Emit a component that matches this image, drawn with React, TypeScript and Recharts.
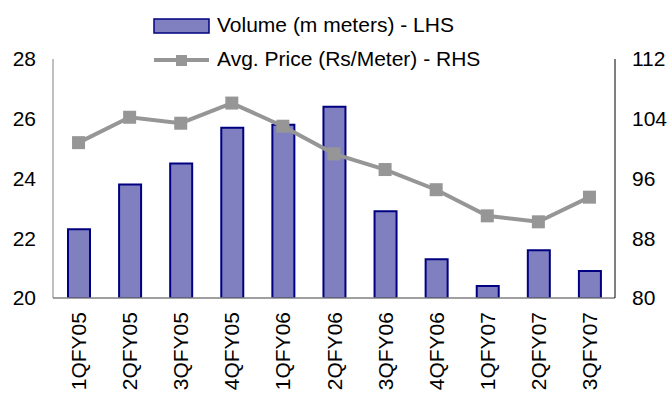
import React from 'react';
import { ComposedChart, Bar, Line, XAxis, YAxis } from 'recharts';

// quarters on the x axis
const quarters = ['1QFY05', '2QFY05', '3QFY05', '4QFY05', '1QFY06', '2QFY06', '3QFY06', '4QFY06', '1QFY07', '2QFY07', '3QFY07'];
// volume in million meters (LHS)
const volume = [22.3, 23.8, 24.5, 25.7, 25.8, 26.4, 22.9, 21.3, 20.4, 21.6, 20.9];
// average price Rs/meter (RHS)
const avgPrice = [100.8, 104.2, 103.4, 106.1, 103.0, 99.3, 97.2, 94.5, 91.0, 90.2, 93.5];

const leftTicks = [20, 22, 24, 26, 28];
const rightTicks = [80, 88, 96, 104, 112];

const data = quarters.map((q, i) => ({ quarter: q, volume: volume[i], price: avgPrice[i] }));

const FONT = '"Liberation Sans", Arial, sans-serif';
const FS = 21;
const BAR_FILL = '#8080C0';
const BAR_STROKE = '#000080';
const LINE_COLOR = '#969696';

const QuarterTick = ({ x, y, payload }: any) => (
  <text
    x={x}
    y={y}
    dy="0.36em"
    transform={`rotate(-90 ${x} ${y})`}
    textAnchor="end"
    fontSize={FS}
    fontFamily={FONT}
    fill="#000"
  >
    {payload.value}
  </text>
);

const SquareDot = ({ cx, cy }: any) => (
  <rect x={cx - 6.5} y={cy - 6.5} width={13} height={13} fill={LINE_COLOR} />
);

// legend drawn as an overlay so it does not steal space from the plot
const ChartLegend = () => (
  <svg width={420} height={80} style={{ position: 'absolute', left: 150, top: 0 }}>
    <rect x={4} y={19} width={55} height={14} fill={BAR_FILL} stroke={BAR_STROKE} strokeWidth={1.5} />
    <text x={67} y={25} dy="0.35em" fontSize={FS} fontFamily={FONT}>Volume (m meters) - LHS</text>
    <line x1={4} y1={60} x2={59} y2={60} stroke={LINE_COLOR} strokeWidth={4} />
    <rect x={26} y={55} width={11} height={11} fill={LINE_COLOR} />
    <text x={67} y={59} dy="0.35em" fontSize={FS} fontFamily={FONT}>Avg. Price (Rs/Meter) - RHS</text>
  </svg>
);

export default function App() {
  return (
    <div style={{ position: 'absolute', left: 0, top: 0, width: 669, height: 394, background: '#fff', fontFamily: FONT }}>
      <ComposedChart width={669} height={394} data={data} margin={{ top: 59, right: 0, bottom: 0, left: 0 }}>
        <XAxis
          dataKey="quarter"
          height={96}
          interval={0}
          tickLine={false}
          tickSize={0}
          tickMargin={14}
          axisLine={{ stroke: '#808080', strokeWidth: 1.5 }}
          tick={<QuarterTick />}
        />
        <YAxis
          yAxisId="left"
          orientation="left"
          width={53}
          domain={[20, 28]}
          ticks={leftTicks}
          allowDataOverflow
          tickLine={false}
          tickSize={0}
          tickMargin={17}
          axisLine={{ stroke: '#808080' }}
          tick={{ fontSize: FS, fill: '#000', fontFamily: FONT }}
        />
        <YAxis
          yAxisId="right"
          orientation="right"
          width={54}
          domain={[80, 112]}
          ticks={rightTicks}
          allowDataOverflow
          tickLine={false}
          tickSize={0}
          tickMargin={17}
          axisLine={{ stroke: '#000' }}
          tick={{ fontSize: FS, fill: '#000', fontFamily: FONT }}
        />
        <Bar
          yAxisId="left"
          dataKey="volume"
          name="Volume (m meters) - LHS"
          barSize={22}
          fill={BAR_FILL}
          stroke={BAR_STROKE}
          strokeWidth={2}
          isAnimationActive={false}
        />
        <Line
          yAxisId="right"
          dataKey="price"
          name="Avg. Price (Rs/Meter) - RHS"
          stroke={LINE_COLOR}
          strokeWidth={4}
          dot={<SquareDot />}
          activeDot={false}
          isAnimationActive={false}
        />
      </ComposedChart>
      <ChartLegend />
    </div>
  );
}
